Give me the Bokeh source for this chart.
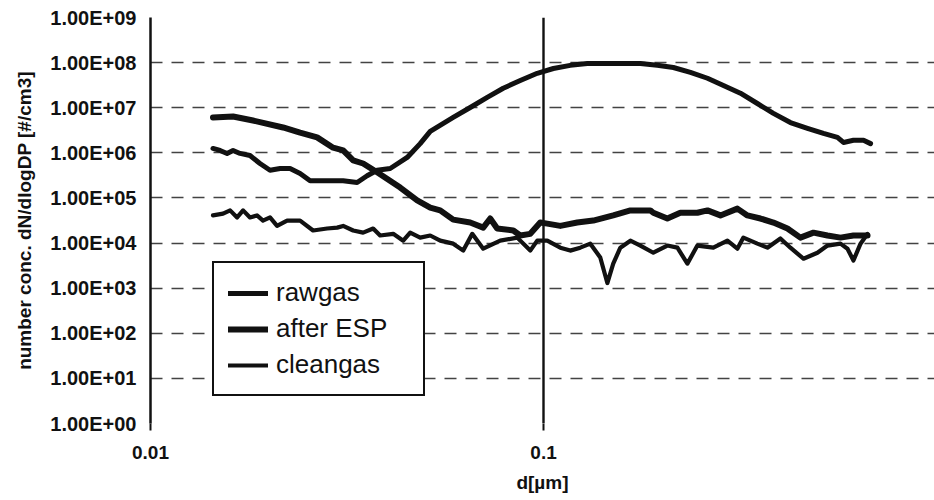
from bokeh.plotting import figure
from bokeh.models import FixedTicker, Range1d, Legend, LegendItem
from bokeh.embed import file_html
from bokeh.resources import INLINE

# ---- data ----
raw_d = [0.01442, 0.01503, 0.01566, 0.01622, 0.01690, 0.01791, 0.01899, 0.02014, 0.02137, 0.02265,
         0.02402, 0.02547, 0.02814, 0.03091, 0.03355, 0.03557, 0.03772, 0.04072, 0.04498, 0.04854,
         0.05148, 0.05890, 0.06508, 0.07189, 0.07895, 0.08724, 0.09636, 0.1059, 0.1169, 0.1292,
         0.1419, 0.1763, 0.1947, 0.2139, 0.2364, 0.2612, 0.2868, 0.3168, 0.3499, 0.3844,
         0.4246, 0.4692, 0.5154, 0.5594, 0.5794, 0.6143, 0.6517, 0.6790]
raw_n = [1.25e6, 1.13e6, 9.7e5, 1.13e6, 9.7e5, 8.7e5, 5.8e5, 4.1e5, 4.5e5, 4.5e5,
         3.5e5, 2.4e5, 2.4e5, 2.4e5, 2.2e5, 3.1e5, 4.1e5, 4.5e5, 7.9e5, 1.6e6,
         3.0e6, 6.1e6, 1.01e7, 1.7e7, 2.7e7, 4.0e7, 5.8e7, 7.4e7, 8.7e7, 9.6e7,
         9.6e7, 9.6e7, 8.7e7, 7.8e7, 6.1e7, 4.5e7, 3.1e7, 2.1e7, 1.24e7, 7.5e6,
         4.7e6, 3.5e6, 2.7e6, 2.2e6, 1.7e6, 1.9e6, 1.9e6, 1.6e6]

esp_d = [0.01442, 0.01622, 0.01823, 0.02174, 0.02402, 0.02654, 0.02915, 0.03091, 0.03278, 0.03475,
         0.03772, 0.04318, 0.04770, 0.05148, 0.05458, 0.05890, 0.06508, 0.07022, 0.07316, 0.07621,
         0.08375, 0.08724, 0.09251, 0.09807, 0.1022, 0.1103, 0.1218, 0.1338, 0.1504, 0.1663,
         0.1869, 0.1902, 0.2065, 0.2228, 0.2462, 0.2612, 0.2818, 0.3112, 0.3300, 0.3562,
         0.3844, 0.4173, 0.4503, 0.4860, 0.5276, 0.5694, 0.6143, 0.6672]
esp_n = [6.1e6, 6.4e6, 5.2e6, 3.65e6, 2.8e6, 2.2e6, 1.3e6, 1.13e6, 6.8e5, 5.8e5,
         3.7e5, 1.7e5, 8.8e4, 6.1e4, 5.3e4, 3.3e4, 2.85e4, 2.2e4, 3.5e4, 2.1e4,
         1.9e4, 1.47e4, 1.6e4, 2.85e4, 2.7e4, 2.4e4, 2.85e4, 3.15e4, 4.1e4, 5.3e4,
         5.3e4, 4.7e4, 3.5e4, 4.7e4, 4.7e4, 5.3e4, 4.1e4, 5.8e4, 4.1e4, 3.5e4,
         2.85e4, 2.1e4, 1.32e4, 1.7e4, 1.47e4, 1.32e4, 1.47e4, 1.47e4]

clean_d = [0.01442, 0.01530, 0.01594, 0.01661, 0.01720, 0.01791, 0.01866, 0.01933, 0.02014, 0.02099,
           0.02226, 0.02402, 0.02592, 0.02814, 0.02985, 0.03091, 0.03278, 0.03475, 0.03685, 0.03839,
           0.04145, 0.04395, 0.04578, 0.04854, 0.05148, 0.05458, 0.05890, 0.06247, 0.06585, 0.07022,
           0.07757, 0.08570, 0.09251, 0.09636, 0.1022, 0.1103, 0.1169, 0.1240, 0.1315, 0.1394,
           0.1453, 0.1504, 0.1568, 0.1663, 0.1763, 0.1902, 0.2065, 0.2190, 0.2322, 0.2462,
           0.2704, 0.2936, 0.3112, 0.3224, 0.3499, 0.3711, 0.4005, 0.4246, 0.4583, 0.4975,
           0.5276, 0.5694, 0.5932, 0.6143, 0.6403, 0.6672]
clean_n = [4.1e4, 4.5e4, 5.3e4, 3.7e4, 5.3e4, 3.7e4, 4.1e4, 3.15e4, 3.7e4, 2.4e4,
           3.15e4, 3.15e4, 1.9e4, 2.1e4, 2.2e4, 2.4e4, 1.9e4, 1.7e4, 2.1e4, 1.47e4,
           1.6e4, 1.13e4, 1.7e4, 1.32e4, 1.47e4, 1.13e4, 9.7e3, 6.8e3, 1.6e4, 7.5e3,
           1.13e4, 1.32e4, 6.8e3, 1.13e4, 1.13e4, 7.9e3, 6.8e3, 7.9e3, 9.7e3, 4.8e3,
           1.3e3, 3.5e3, 7.9e3, 1.13e4, 8.8e3, 6.1e3, 8.8e3, 7.9e3, 3.5e3, 8.8e3,
           7.9e3, 1.13e4, 7.5e3, 1.32e4, 9.7e3, 7.9e3, 1.26e4, 7.9e3, 4.5e3, 6.1e3,
           8.8e3, 9.7e3, 7.5e3, 4.1e3, 9.7e3, 1.6e4]

series_names = ["rawgas", "after ESP", "cleangas"]

x_ticks = [0.01, 0.1]
x_tick_labels = ["0.01", "0.1"]
y_ticks = [1.0, 1e1, 1e2, 1e3, 1e4, 1e5, 1e6, 1e7, 1e8, 1e9]
y_tick_labels = ["1.00E+00", "1.00E+01", "1.00E+02", "1.00E+03", "1.00E+04",
                 "1.00E+05", "1.00E+06", "1.00E+07", "1.00E+08", "1.00E+09"]

# ---- figure ----
p = figure(width=934, height=500, x_axis_type="log", y_axis_type="log",
           x_range=Range1d(0.01, 0.9876), y_range=Range1d(1.0, 1e9),
           output_backend="svg", toolbar_location=None,
           min_border_left=150, min_border_right=0, min_border_top=17, min_border_bottom=77)
p.outline_line_color = None
p.background_fill_color = "white"
p.border_fill_color = "white"

FONT = "Liberation Sans"
INK = "#111111"

# y axis
p.yaxis.ticker = FixedTicker(ticks=y_ticks)
p.yaxis.major_label_overrides = {t: l for t, l in zip(y_ticks, y_tick_labels)}
p.yaxis.minor_tick_line_color = None
p.yaxis.major_tick_out = 0
p.yaxis.major_tick_in = 0
p.yaxis.major_label_standoff = 14
p.yaxis.axis_line_color = INK
p.yaxis.axis_line_width = 2.5
p.yaxis.major_label_text_font = FONT
p.yaxis.major_label_text_font_size = "20px"
p.yaxis.major_label_text_font_style = "bold"
p.yaxis.major_label_text_color = INK
p.yaxis.axis_label = "number conc. dN/dlogDP [#/cm3]"
p.yaxis.axis_label_text_font = FONT
p.yaxis.axis_label_text_font_size = "19px"
p.yaxis.axis_label_text_font_style = "bold"
p.yaxis.axis_label_text_color = INK
p.yaxis.axis_label_standoff = 12

# x axis
p.xaxis.ticker = FixedTicker(ticks=x_ticks)
p.xaxis.major_label_overrides = {t: l for t, l in zip(x_ticks, x_tick_labels)}
p.xaxis.minor_tick_line_color = None
p.xaxis.axis_line_color = None
p.xaxis.major_tick_out = 7
p.xaxis.major_tick_in = 0
p.xaxis.major_tick_line_width = 2
p.xaxis.major_tick_line_color = INK
p.xaxis.major_label_standoff = 15
p.xaxis.major_label_text_font = FONT
p.xaxis.major_label_text_font_size = "19px"
p.xaxis.major_label_text_font_style = "bold"
p.xaxis.major_label_text_color = INK
p.xaxis.axis_label = "d[µm]"
p.xaxis.axis_label_text_font = FONT
p.xaxis.axis_label_text_font_size = "19px"
p.xaxis.axis_label_text_font_style = "bold"
p.xaxis.axis_label_text_color = INK
p.xaxis.axis_label_standoff = 10

# grids
p.ygrid.ticker = FixedTicker(ticks=y_ticks[:-1])
p.ygrid.grid_line_color = "#222222"
p.ygrid.grid_line_width = 1.4
p.ygrid.grid_line_dash = "12 9"
p.ygrid.grid_line_alpha = 0.85
p.xgrid.ticker = FixedTicker(ticks=[0.1])
p.xgrid.grid_line_color = INK
p.xgrid.grid_line_width = 2.4

# ---- lines ----
r1 = p.line(raw_d, raw_n, line_color=INK, line_width=5, line_join="round", line_cap="round")
r2 = p.line(esp_d, esp_n, line_color=INK, line_width=6, line_join="round", line_cap="round")
r3 = p.line(clean_d, clean_n, line_color=INK, line_width=4.2, line_join="round", line_cap="round")

legend = Legend(items=[LegendItem(label=series_names[0], renderers=[r1]),
                       LegendItem(label=series_names[1], renderers=[r2]),
                       LegendItem(label=series_names[2], renderers=[r3])],
                location=(62, 27))
legend.border_line_color = INK
legend.border_line_alpha = 1.0
legend.border_line_width = 2.8
legend.background_fill_color = "white"
legend.background_fill_alpha = 1.0
legend.label_text_font = FONT
legend.label_text_font_size = "26px"
legend.label_text_color = INK
legend.glyph_width = 40
legend.glyph_height = 28
legend.label_height = 28
legend.label_width = 133
legend.label_standoff = 8
legend.spacing = 5
legend.padding = 14
legend.margin = 0
p.add_layout(legend, "center")

open("out.html", "w").write(file_html(p, INLINE))
